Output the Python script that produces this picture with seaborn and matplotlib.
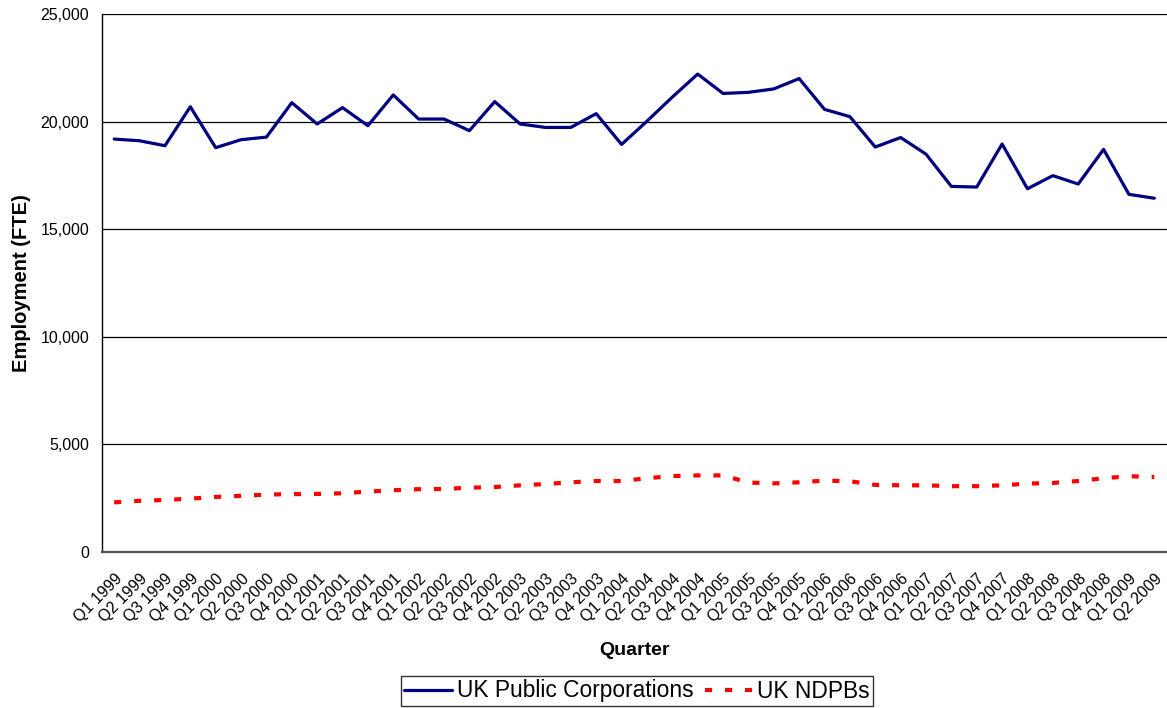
import numpy as np
import pandas as pd
import matplotlib
matplotlib.use("Agg")
import matplotlib.pyplot as plt
import seaborn as sns
from matplotlib.ticker import FuncFormatter
from matplotlib.lines import Line2D

quarters = [f"Q{q} {y}" for y in range(1999, 2010) for q in range(1, 5)][:42]

public_corporations = [19190, 19110, 18880, 20690, 18790, 19160, 19280, 20880, 19890, 20650,
                       19810, 21240, 20120, 20120, 19580, 20930, 19890, 19730, 19730, 20370,
                       18940, 20020, 21140, 22210, 21310, 21360, 21520, 22000, 20570, 20230,
                       18820, 19260, 18490, 16990, 16960, 18960, 16880, 17490, 17100, 18710,
                       16620, 16440]

ndpbs = [2310, 2380, 2420, 2480, 2560, 2610, 2670, 2690, 2700, 2730,
         2810, 2870, 2920, 2930, 2990, 3020, 3100, 3160, 3240, 3300,
         3300, 3430, 3530, 3560, 3560, 3230, 3190, 3240, 3320, 3290,
         3120, 3100, 3100, 3060, 3060, 3100, 3180, 3210, 3300, 3430,
         3520, 3490]

series_names = ["UK Public Corporations", "UK NDPBs"]

df = pd.DataFrame({
    "Quarter": quarters * 2,
    "Employment": public_corporations + ndpbs,
    "Series": [series_names[0]] * len(quarters) + [series_names[1]] * len(quarters),
})

sns.set_style("white")
plt.rcParams["font.family"] = ["Liberation Sans", "DejaVu Sans"]
plt.rcParams["text.color"] = "black"
plt.rcParams["axes.labelcolor"] = "black"
plt.rcParams["xtick.color"] = "black"
plt.rcParams["ytick.color"] = "black"

fig = plt.figure(figsize=(11.67, 7.08), dpi=100)
ax = fig.add_axes([0.087, 0.2203, 0.913, 0.7599])

sns.lineplot(data=df, x="Quarter", y="Employment", hue="Series", style="Series",
             palette={series_names[0]: "#000080", series_names[1]: "#FF0000"},
             dashes={series_names[0]: "", series_names[1]: (1.7, 3.1)},
             ax=ax, legend=False, sort=False)

lines = ax.get_lines()
lines[0].set_linewidth(2.3)
lines[1].set_linewidth(3.0)
lines[1].set_dash_capstyle("butt")

n = len(quarters)
ax.set_xlim(-0.5, n - 0.5)
ax.set_ylim(0, 25000)
ax.set_yticks(np.arange(0, 25001, 5000))
ax.yaxis.set_major_formatter(FuncFormatter(lambda v, p: f"{int(v):,}"))

ax.set_xticks(np.arange(-0.5, n, 1.0))
ax.set_xticklabels([])
ax.set_xticks(np.arange(n), minor=True)
ax.set_xticklabels(quarters, minor=True, rotation=45, ha="right",
                   rotation_mode="anchor", fontsize=11.5, color="black")
ax.tick_params(axis="x", which="minor", length=0, pad=14, labelcolor="black")
ax.tick_params(axis="x", which="major", length=5, width=1, color="#555555", direction="out")
ax.tick_params(axis="y", which="major", length=5, width=1, color="black", direction="out",
               labelsize=11.5, pad=4, labelcolor="black")

ax.yaxis.grid(True, color="black", linewidth=0.9)
ax.xaxis.grid(False)
ax.set_axisbelow(True)

for side in ["top", "right"]:
    ax.spines[side].set_visible(False)
ax.spines["left"].set_color("black")
ax.spines["left"].set_linewidth(1.0)
ax.spines["bottom"].set_color("#555555")
ax.spines["bottom"].set_linewidth(1.6)

ax.set_xlabel("Quarter", fontsize=14, fontweight="bold", labelpad=12, color="black")
ax.set_ylabel("Employment (FTE)", fontsize=14.5, fontweight="bold", labelpad=7, color="black")

handles = [Line2D([], [], color="#000080", linewidth=2.3),
           Line2D([], [], color="#FF0000", linewidth=3.0, linestyle=(0, (1.7, 3.1)),
                  dash_capstyle="butt")]
leg = fig.legend(handles, series_names, loc="center", bbox_to_anchor=(637 / 1167, 1 - 691 / 708),
                 ncol=2, frameon=True, fancybox=False, fontsize=16.4, handlelength=2.1,
                 handletextpad=0.2, columnspacing=0.5, borderpad=0.15, borderaxespad=0)
leg.get_frame().set_edgecolor("black")
leg.get_frame().set_linewidth(1.0)
for t in leg.get_texts():
    t.set_color("black")

fig.savefig("out.png", dpi=100)
